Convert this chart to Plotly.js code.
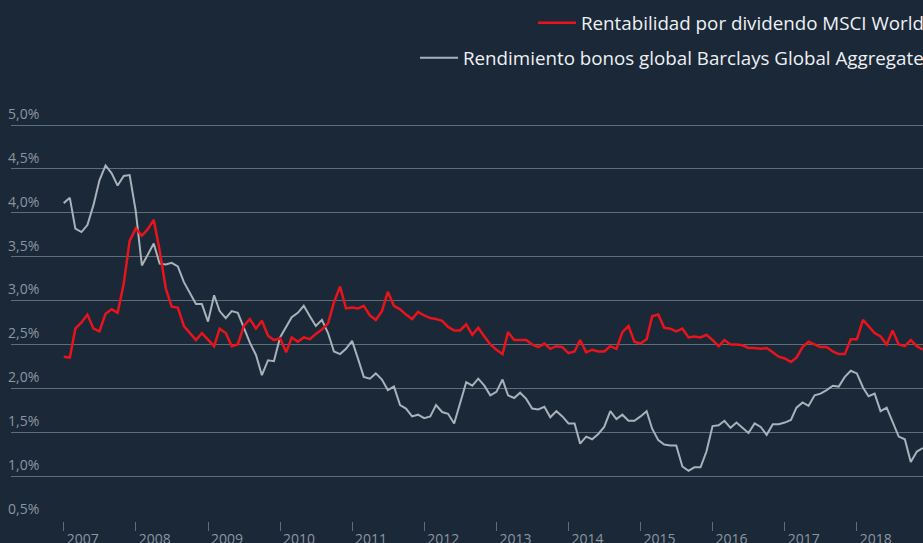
<!DOCTYPE html>
<html>
<head>
<meta charset="utf-8">
<script src="https://cdn.plot.ly/plotly-3.0.1.min.js"></script>
<style>
  html, body { margin: 0; padding: 0; background: #1a2838; }
  #chart { width: 923px; height: 543px; }
</style>
</head>
<body>
<div id="chart"></div>
<script>
// ---- Data (monthly, Jan 2007 - Dec 2018) ----
const startYear = 2007;
const endYear = 2018;
const yearLabels = ['2007','2008','2009','2010','2011','2012','2013','2014','2015','2016','2017','2018'];

const seriesNames = [
  'Rentabilidad por dividendo MSCI World',
  'Rendimiento bonos global Barclays Global Aggregate'
];

// Rentabilidad por dividendo MSCI World (%)
const dividendYield = [
  2.36, 2.35, 2.68, 2.75, 2.84, 2.68, 2.65, 2.85, 2.90, 2.86, 3.19, 3.68,
  3.82, 3.74, 3.81, 3.92, 3.57, 3.14, 2.93, 2.92, 2.71, 2.63, 2.55, 2.63,
  2.56, 2.48, 2.68, 2.63, 2.48, 2.50, 2.71, 2.79, 2.68, 2.77, 2.60, 2.55,
  2.57, 2.41, 2.58, 2.53, 2.58, 2.56, 2.62, 2.67, 2.74, 2.98, 3.16, 2.91,
  2.92, 2.91, 2.94, 2.83, 2.78, 2.88, 3.10, 2.94, 2.90, 2.84, 2.79, 2.87,
  2.83, 2.80, 2.79, 2.77, 2.70, 2.66, 2.66, 2.73, 2.61, 2.69, 2.59, 2.50,
  2.44, 2.39, 2.64, 2.55, 2.55, 2.55, 2.50, 2.47, 2.51, 2.45, 2.48, 2.47,
  2.40, 2.42, 2.55, 2.41, 2.44, 2.42, 2.42, 2.48, 2.45, 2.64, 2.71, 2.53,
  2.51, 2.56, 2.82, 2.84, 2.69, 2.68, 2.65, 2.68, 2.58, 2.59, 2.58, 2.61,
  2.55, 2.48, 2.55, 2.50, 2.50, 2.49, 2.46, 2.46, 2.45, 2.46, 2.41, 2.36,
  2.34, 2.30, 2.35, 2.47, 2.53, 2.50, 2.47, 2.47, 2.42, 2.39, 2.39, 2.56,
  2.56, 2.78, 2.71, 2.63, 2.59, 2.50, 2.66, 2.50, 2.48, 2.55, 2.48, 2.44
];

// Rendimiento bonos global Barclays Global Aggregate (%)
const bondYield = [
  4.11, 4.17, 3.82, 3.78, 3.86, 4.09, 4.37, 4.54, 4.45, 4.31, 4.42, 4.43,
  4.02, 3.40, 3.52, 3.65, 3.42, 3.41, 3.43, 3.39, 3.21, 3.09, 2.96, 2.96,
  2.76, 3.06, 2.88, 2.80, 2.88, 2.86, 2.69, 2.52, 2.38, 2.15, 2.32, 2.31,
  2.58, 2.71, 2.81, 2.86, 2.94, 2.82, 2.71, 2.78, 2.63, 2.42, 2.39, 2.45,
  2.54, 2.33, 2.13, 2.11, 2.17, 2.10, 1.98, 2.02, 1.81, 1.77, 1.68, 1.70,
  1.66, 1.68, 1.81, 1.73, 1.71, 1.60, 1.83, 2.07, 2.03, 2.11, 2.03, 1.92,
  1.96, 2.10, 1.92, 1.89, 1.95, 1.88, 1.77, 1.76, 1.79, 1.67, 1.74, 1.68,
  1.60, 1.60, 1.37, 1.45, 1.42, 1.48, 1.56, 1.74, 1.65, 1.70, 1.63, 1.63,
  1.68, 1.74, 1.54, 1.41, 1.36, 1.35, 1.35, 1.11, 1.06, 1.10, 1.10, 1.28,
  1.57, 1.58, 1.63, 1.55, 1.61, 1.55, 1.49, 1.60, 1.56, 1.47, 1.59, 1.59,
  1.61, 1.64, 1.78, 1.84, 1.80, 1.92, 1.94, 1.98, 2.03, 2.02, 2.13, 2.20,
  2.17, 2.01, 1.91, 1.94, 1.74, 1.78, 1.61, 1.45, 1.42, 1.16, 1.28, 1.32
];

const yTickVals = [0.5, 1.0, 1.5, 2.0, 2.5, 3.0, 3.5, 4.0, 4.5, 5.0];
const yTickText = ['0,5%', '1,0%', '1,5%', '2,0%', '2,5%', '3,0%', '3,5%', '4,0%', '4,5%', '5,0%'];

// month dates
const months = [];
for (let y = startYear; y <= endYear; y++) {
  for (let m = 1; m <= 12; m++) {
    months.push(y + '-' + String(m).padStart(2, '0') + '-01');
  }
}
const yearTicks = yearLabels.map(y => y + '-01-01');

const BG = '#1a2838';
const GRID = '#5f6c79';
const TICKCOL = '#8c96a0';
const FONT = 'Open Sans, sans-serif';

const traces = [
  {
    x: months, y: bondYield, name: seriesNames[1], type: 'scatter', mode: 'lines',
    line: { color: '#a9b1b9', width: 2 }, legend: 'legend2', hoverinfo: 'skip'
  },
  {
    x: months, y: dividendYield, name: seriesNames[0], type: 'scatter', mode: 'lines',
    line: { color: '#e8141c', width: 2.5 }, legend: 'legend', hoverinfo: 'skip'
  }
];

const layout = {
  width: 923, height: 543,
  paper_bgcolor: BG, plot_bgcolor: BG,
  margin: { l: 11, r: 0, t: 122, b: 22, autoexpand: false },
  separators: ',.',
  font: { family: FONT, color: TICKCOL, size: 14 },
  showlegend: true,
  legend: {
    x: 1.0066, xanchor: 'right', y: 1.2481, yanchor: 'middle',
    bgcolor: 'rgba(0,0,0,0)', font: { family: FONT, size: 18.75, color: '#eef1f4' },
    orientation: 'h', itemwidth: 38, itemclick: false, itemdoubleclick: false
  },
  legend2: {
    x: 1.0066, xanchor: 'right', y: 1.1604, yanchor: 'middle',
    bgcolor: 'rgba(0,0,0,0)', font: { family: FONT, size: 18.75, color: '#eef1f4' },
    orientation: 'h', itemwidth: 38, itemclick: false, itemdoubleclick: false
  },
  xaxis: {
    type: 'date',
    range: ['2006-04-09', '2018-12-02'],
    tickmode: 'array', tickvals: yearTicks, ticktext: yearLabels,
    ticks: 'outside', ticklen: 9, tickcolor: GRID, tickwidth: 1,
    ticklabelshift: 19, ticklabelstandoff: -4,
    showgrid: false, zeroline: false,
    showline: false, automargin: false,
    tickfont: { family: FONT, size: 14, color: TICKCOL },
    fixedrange: true
  },
  yaxis: {
    range: [0.4886, 5.0342],
    tickmode: 'array', tickvals: yTickVals, ticktext: yTickText,
    ticklabelposition: 'inside', ticklabeloverflow: 'allow',
    ticklabelshift: -11, ticklabelstandoff: -6,
    ticks: '', showline: false, zeroline: false, automargin: false,
    showgrid: true, gridcolor: GRID, gridwidth: 1,
    tickfont: { family: FONT, size: 14, color: TICKCOL },
    fixedrange: true
  }
};

Plotly.newPlot('chart', traces, layout, { displayModeBar: false, staticPlot: true });
</script>
</body>
</html>
